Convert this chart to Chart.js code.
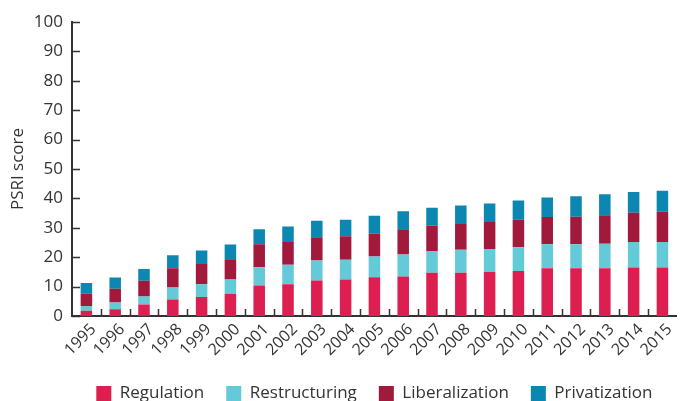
<!DOCTYPE html>
<html><head><meta charset="utf-8">
<script src="https://cdn.jsdelivr.net/npm/chart.js@4.4.1/dist/chart.umd.min.js"></script>
<style>html,body{margin:0;padding:0;background:#fff;}#wrap{width:680px;height:401px;position:relative;}</style>
</head><body><div id="wrap"><canvas id="c"></canvas></div>
<script>
const years = ['1995','1996','1997','1998','1999','2000','2001','2002','2003','2004','2005','2006','2007','2008','2009','2010','2011','2012','2013','2014','2015'];
const regulation     = [1.8,2.3,3.9,5.6,6.5,7.6,10.4,10.8,12.1,12.4,13.2,13.4,14.7,14.7,15.0,15.3,16.2,16.2,16.2,16.5,16.5];
const restructuring  = [1.6,2.3,2.7,4.1,4.3,4.8,6.2,6.6,6.8,6.7,7.0,7.5,7.4,7.8,7.8,8.1,8.2,8.2,8.4,8.7,8.7];
const liberalization = [4.2,4.7,5.4,6.5,6.9,6.9,7.8,7.8,7.9,8.0,7.9,8.6,8.7,8.8,9.2,9.3,9.3,9.4,9.7,9.9,10.3];
const privatization  = [3.6,3.8,4.0,4.5,4.6,5.0,5.1,5.2,5.6,5.6,6.0,6.1,6.0,6.3,6.3,6.6,6.6,6.9,7.1,7.1,7.1];
const yTicks = [0,10,20,30,40,50,60,70,80,90,100];

const FONT = "'Open Sans', 'DejaVu Sans', sans-serif";
const inwardTicks = {
  id: 'inwardTicks',
  afterLayout(chart) {
    const lg = chart.legend;
    if (lg) { lg.left = chart.chartArea.left; lg.right = chart.chartArea.right; }
  },
  afterDraw(chart) {
    const ctx = chart.ctx, x = chart.scales.x, y = chart.scales.y;
    ctx.save();
    ctx.strokeStyle = '#333';
    ctx.lineWidth = 1.5;
    ctx.beginPath();
    yTicks.forEach(v => {
      const py = Math.round(y.getPixelForValue(v)) + 0.5;
      ctx.moveTo(x.left, py); ctx.lineTo(x.left + 8, py);
    });
    for (let i = 1; i < years.length; i++) {
      const px = Math.round((x.getPixelForValue(i - 1) + x.getPixelForValue(i)) / 2) + 0.5;
      ctx.moveTo(px, y.bottom); ctx.lineTo(px, y.bottom - 7);
    }
    ctx.stroke();
    ctx.restore();
  }
};

const mk = (label, data, color) => ({label, data, backgroundColor: color, borderWidth: 0, barPercentage: 0.4, categoryPercentage: 1});

new Chart(document.getElementById('c'), {
  type: 'bar',
  data: {
    labels: years,
    datasets: [
      mk('Regulation', regulation, '#dc1f50'),
      mk('Restructuring', restructuring, '#64cad8'),
      mk('Liberalization', liberalization, '#a11a3c'),
      mk('Privatization', privatization, '#0c87b2')
    ]
  },
  options: {
    responsive: true, maintainAspectRatio: false, animation: false,
    layout: {padding: {top: 22, right: 0, left: 0, bottom: -11}},
    plugins: {
      tooltip: {enabled: false},
      legend: {
        position: 'bottom',
        labels: {boxWidth: 15, boxHeight: 15, padding: 22, color: '#333', font: {family: FONT, size: 17}}
      }
    },
    scales: {
      x: {
        stacked: true,
        grid: {display: false, drawTicks: false},
        border: {display: true, color: '#333', width: 2},
        ticks: {color: '#333', font: {family: FONT, size: 16}, minRotation: 45, maxRotation: 45, padding: 4, labelOffset: 7, autoSkip: false},
        afterFit(s) { s.height = 47; }
      },
      y: {
        stacked: true, min: 0, max: 100,
        grid: {display: false, drawTicks: false},
        border: {display: true, color: '#333', width: 2},
        ticks: {stepSize: 10, color: '#333', font: {family: FONT, size: 17}, padding: 9},
        title: {display: true, text: 'PSRI score', color: '#333', font: {family: FONT, size: 17}, padding: {top: 8, bottom: 0}},
        afterFit(s) { s.width = 72; }
      }
    }
  },
  plugins: [inwardTicks]
});
</script></body></html>
